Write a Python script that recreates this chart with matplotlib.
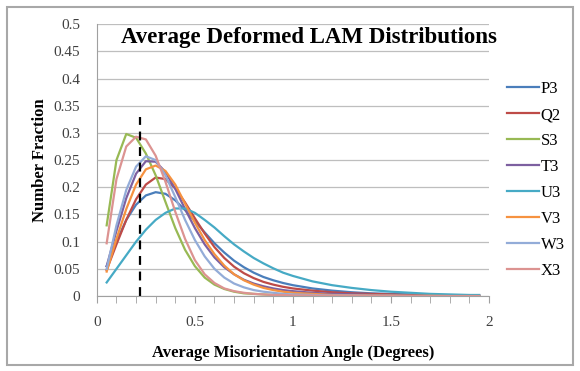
import numpy as np
import matplotlib
matplotlib.use("Agg")
import matplotlib.pyplot as plt
from matplotlib.patches import Rectangle
from matplotlib.ticker import MultipleLocator

# misorientation angle bins (degrees)
angle = [0.05, 0.10, 0.15, 0.20, 0.25, 0.30, 0.35, 0.40, 0.45, 0.50,
         0.55, 0.60, 0.65, 0.70, 0.75, 0.80, 0.85, 0.90, 0.95, 1.00,
         1.10, 1.20, 1.30, 1.40, 1.50, 1.60, 1.70, 1.80, 1.90, 1.95]

P3 = [0.055, 0.100, 0.140, 0.168, 0.185, 0.191, 0.188, 0.176, 0.158, 0.138,
      0.117, 0.097, 0.080, 0.065, 0.053, 0.043, 0.035, 0.029, 0.024, 0.020,
      0.014, 0.010, 0.007, 0.005, 0.004, 0.003, 0.002, 0.0015, 0.001, 0.001]
Q2 = [0.048, 0.095, 0.140, 0.178, 0.205, 0.218, 0.215, 0.198, 0.172, 0.143,
      0.115, 0.090, 0.070, 0.054, 0.042, 0.033, 0.026, 0.021, 0.017, 0.014,
      0.010, 0.007, 0.005, 0.004, 0.003, 0.002, 0.0015, 0.001, 0.001, 0.001]
S3 = [0.130, 0.250, 0.298, 0.291, 0.262, 0.222, 0.173, 0.125, 0.085, 0.055,
      0.034, 0.021, 0.013, 0.008, 0.005, 0.004, 0.003, 0.002, 0.002, 0.001,
      0.001, 0.001, 0.0005, 0.0005, 0.0, 0.0, 0.0, 0.0, 0.0, 0.0]
T3 = [0.055, 0.120, 0.180, 0.225, 0.248, 0.247, 0.228, 0.197, 0.160, 0.125,
      0.095, 0.071, 0.053, 0.040, 0.030, 0.023, 0.018, 0.014, 0.011, 0.009,
      0.006, 0.004, 0.003, 0.002, 0.0015, 0.001, 0.001, 0.0005, 0.0005, 0.0005]
U3 = [0.025, 0.050, 0.075, 0.100, 0.122, 0.140, 0.153, 0.161, 0.161, 0.153,
      0.140, 0.126, 0.110, 0.095, 0.082, 0.070, 0.060, 0.051, 0.043, 0.037,
      0.027, 0.020, 0.015, 0.011, 0.008, 0.006, 0.004, 0.003, 0.002, 0.002]
V3 = [0.045, 0.105, 0.160, 0.205, 0.233, 0.240, 0.230, 0.205, 0.170, 0.135,
      0.103, 0.077, 0.056, 0.040, 0.029, 0.021, 0.015, 0.011, 0.008, 0.006,
      0.004, 0.002, 0.0015, 0.001, 0.001, 0.0005, 0.0005, 0.0, 0.0, 0.0]
W3 = [0.050, 0.130, 0.195, 0.238, 0.257, 0.250, 0.222, 0.182, 0.140, 0.103,
      0.073, 0.050, 0.034, 0.023, 0.016, 0.011, 0.008, 0.006, 0.004, 0.003,
      0.002, 0.001, 0.001, 0.0005, 0.0005, 0.0, 0.0, 0.0, 0.0, 0.0]
X3 = [0.097, 0.215, 0.275, 0.293, 0.288, 0.258, 0.210, 0.155, 0.105, 0.066,
      0.040, 0.024, 0.014, 0.009, 0.006, 0.004, 0.003, 0.002, 0.002, 0.001,
      0.001, 0.0005, 0.0005, 0.0, 0.0, 0.0, 0.0, 0.0, 0.0, 0.0]

names = ["P3", "Q2", "S3", "T3", "U3", "V3", "W3", "X3"]
series = [P3, Q2, S3, T3, U3, V3, W3, X3]
colors = ["#4A7EBB", "#BE4B48", "#98B954", "#7D60A0",
          "#46AAC5", "#F69240", "#93ACD8", "#DC9391"]

x_ticks = [0, 0.5, 1, 1.5, 2]
x_labels = ["0", "0.5", "1", "1.5", "2"]
y_ticks = [0, 0.05, 0.1, 0.15, 0.2, 0.25, 0.3, 0.35, 0.4, 0.45, 0.5]
y_labels = ["0", "0.05", "0.1", "0.15", "0.2", "0.25", "0.3",
            "0.35", "0.4", "0.45", "0.5"]

marker_x = 0.22
marker_top = 0.33

plt.rcParams['font.family'] = ['Liberation Serif', 'DejaVu Serif']

fig = plt.figure(figsize=(5.8, 3.71), dpi=100)
ax = fig.add_axes([0.167, 0.202, 0.676, 0.733])

for name, vals, c in zip(names, series, colors):
    ax.plot(angle, vals, color=c, lw=1.6, label=name, solid_joinstyle="round")

ax.plot([marker_x, marker_x], [0, marker_top], color="black", lw=1.6,
        ls=(0, (4, 3)))

ax.set_xlim(0, 2)
ax.set_ylim(0, 0.5)
ax.set_xticks(x_ticks)
ax.set_xticklabels(x_labels)
ax.xaxis.set_minor_locator(MultipleLocator(0.1))
ax.set_yticks(y_ticks)
ax.set_yticklabels(y_labels)
ax.grid(axis="y", color="#BEBEBE", lw=0.9)
ax.set_axisbelow(True)
for s in ["top", "right"]:
    ax.spines[s].set_visible(False)
for s in ["left", "bottom"]:
    ax.spines[s].set_color("#A0A0A0")
ax.tick_params(axis="x", which="both", direction="out", color="#A0A0A0",
               labelsize=11, labelcolor="#404040", pad=9, length=5)
ax.tick_params(axis="y", length=0, labelsize=11, labelcolor="#404040", pad=12)

ax.set_xlabel("Average Misorientation Angle (Degrees)", fontsize=12,
              fontweight="bold", labelpad=12)
ax.set_ylabel("Number Fraction", fontsize=12, fontweight="bold", labelpad=4)

fig.text(0.533, 0.898, "Average Deformed LAM Distributions", fontsize=16.5,
         fontweight="bold", ha="center", va="center")

ax.legend(loc="upper left", bbox_to_anchor=(1.03, 0.815), frameon=False,
          fontsize=12, handlelength=1.9, handletextpad=0.1,
          labelspacing=0.6, borderaxespad=0)

fig.patches.append(Rectangle((0.012, 0.015), 0.976, 0.965,
                             transform=fig.transFigure, fill=False,
                             edgecolor="#A8A8A8", lw=1.5))

fig.savefig("out.png", dpi=100)
